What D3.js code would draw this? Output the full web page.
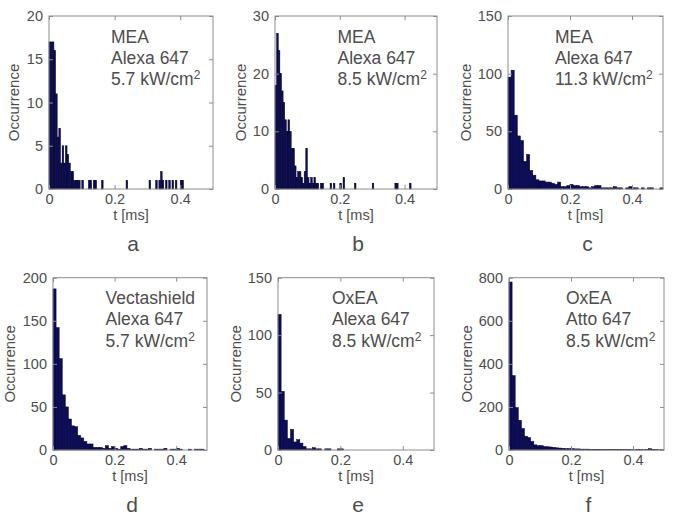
<!DOCTYPE html>
<html>
<head>
<meta charset="utf-8">
<script src="https://cdn.jsdelivr.net/npm/d3@7"></script>
<style>
  html, body { margin: 0; padding: 0; background: #fff; }
  svg { display: block; }
  text { font-family: "Liberation Sans", Arial, sans-serif; }
</style>
</head>
<body>
<svg id="chart" width="685" height="516"></svg>
<script>
// ---------- data ----------
const panelLetters = ["a", "b", "c", "d", "e", "f"];
const buffers = ["MEA", "MEA", "MEA", "Vectashield", "OxEA", "OxEA"];
const dyes = ["Alexa 647", "Alexa 647", "Alexa 647", "Alexa 647", "Alexa 647", "Atto 647"];
const intensities = ["5.7", "8.5", "11.3", "5.7", "8.5", "8.5"];
const binWidths = [0.005, 0.005, 0.01, 0.01, 0.01, 0.01]; // ms
const xTicks = [0, 0.2, 0.4];
const xTickLabels = ["0", "0.2", "0.4"];
const yMaxes = [20, 30, 150, 200, 150, 800];
const yTicksA = [0, 5, 10, 15, 20];
const yTicksB = [0, 10, 20, 30];
const yTicksC = [0, 50, 100, 150];
const yTicksD = [0, 50, 100, 150, 200];
const yTicksE = [0, 50, 100, 150];
const yTicksF = [0, 200, 400, 600, 800];

// counts per bin (bin i covers [i*w, (i+1)*w) ms)
const countsA = [17, 17, 17, 16, 11, 6, 7, 3, 5, 3, 5, 4, 3, 2, 2, 1, 1, 1, 1, 0,
                 1, 0, 0, 0, 1, 1, 0, 1, 1, 0, 0, 0, 1, 0, 0, 0, 0, 0, 0, 0,
                 0, 0, 0, 0, 0, 0, 0, 1, 0, 0, 0, 0, 0, 0, 0, 0, 0, 0, 0, 0,
                 0, 1, 0, 0, 0, 1, 0, 1, 2, 1, 0, 1, 0, 1, 0, 1, 0, 1, 0, 0,
                 1, 1];
const countsB = [18, 27, 24, 20, 17, 15, 12, 10, 12, 10, 7, 7, 4, 2, 3, 3, 2, 1, 3, 7,
                 2, 1, 2, 1, 2, 1, 1, 0, 1, 1, 0, 0, 0, 0, 1, 0, 1, 0, 0, 0,
                 1, 0, 2, 0, 0, 0, 0, 0, 0, 1, 0, 0, 0, 0, 0, 0, 0, 0, 0, 0,
                 1, 0, 0, 0, 0, 0, 0, 0, 0, 0, 0, 0, 0, 0, 1, 1, 0, 0, 0, 0,
                 0, 0, 0, 1];
const countsC = [97, 103, 64, 46, 42, 24, 30, 16, 12, 8, 7, 7, 6, 6, 5, 4, 6, 2, 2, 3,
                 4, 3, 3, 2, 2, 2, 1, 2, 3, 3, 1, 1, 1, 1, 2, 1, 1, 0, 1, 2,
                 1, 1, 0, 1, 0, 1, 1, 0, 0, 1];
const countsD = [187, 142, 106, 64, 50, 36, 28, 27, 17, 14, 10, 7, 7, 3, 3, 3, 2, 5, 2, 4,
                 2, 1, 4, 5, 2, 1, 1, 1, 2, 1, 1, 2, 0, 1, 1, 1, 2, 0, 1, 1,
                 2, 1, 0, 0, 1, 0, 1, 1, 1, 0];
const countsE = [118, 51, 26, 10, 18, 7, 9, 6, 3, 1, 1, 2, 1, 1, 0, 1, 1, 0, 0, 1,
                 1, 0, 0, 0, 0, 0, 0, 0, 0, 0, 0, 0, 0, 0, 0, 0, 0, 0, 0, 0,
                 0, 0, 0, 0, 0, 0, 0, 0, 0, 0];
const countsF = [780, 345, 197, 138, 100, 64, 58, 40, 24, 20, 20, 16, 15, 14, 12, 10, 9, 8, 6, 6,
                 6, 5, 5, 4, 4, 4, 3, 3, 3, 3, 3, 2, 3, 2, 2, 2, 2, 3, 2, 2,
                 1, 2, 2, 1, 2, 6, 3, 2, 1, 1];

const allCounts = [countsA, countsB, countsC, countsD, countsE, countsF];
const allYTicks = [yTicksA, yTicksB, yTicksC, yTicksD, yTicksE, yTicksF];

// ---------- layout ----------
const boxes = [
  {x0: 49,  x1: 213, y0: 16,    y1: 189, ylab: 35.5, tx: 62},
  {x0: 275, x1: 437, y0: 16,    y1: 189, ylab: 35,   tx: 62.5},
  {x0: 508, x1: 663, y0: 16,    y1: 189, ylab: 43,   tx: 47},
  {x0: 53,  x1: 207, y0: 277.7, y1: 450, ylab: 44,   tx: 52.5},
  {x0: 278, x1: 434, y0: 277.7, y1: 450, ylab: 42.5, tx: 54},
  {x0: 509, x1: 664, y0: 277.7, y1: 450, ylab: 43,   tx: 57}
];

const textColor = "#4d4d4d";
const axisColor = "#8c8c8c";
const barFill = "#0c0c5e";
const barStroke = "#000022";

const svg = d3.select("#chart");

boxes.forEach((b, p) => {
  const g = svg.append("g");
  const x = d3.scaleLinear().domain([0, 0.5]).range([b.x0, b.x1]);
  const y = d3.scaleLinear().domain([0, yMaxes[p]]).range([b.y1, b.y0]);
  const w = binWidths[p];
  const counts = allCounts[p];

  // bars
  g.append("g").selectAll("rect")
    .data(counts.map((c, i) => ({i, c})).filter(d => d.c > 0))
    .join("rect")
    .attr("x", d => x(d.i * w))
    .attr("width", d => Math.max(0.6, x((d.i + 1) * w) - x(d.i * w)))
    .attr("y", d => y(d.c))
    .attr("height", d => y(0) - y(d.c))
    .attr("fill", barFill)
    .attr("stroke", barStroke)
    .attr("stroke-width", 0.5);

  // axes
  const styleAxis = sel => {
    sel.select(".domain").remove();
    sel.selectAll(".tick line").attr("stroke", axisColor);
    sel.selectAll(".tick text")
      .attr("fill", textColor)
      .style("font-family", "'Liberation Sans', Arial, sans-serif")
      .style("font-size", "14.5px");
  };

  g.append("g").attr("transform", `translate(0,${b.y1})`)
    .call(d3.axisBottom(x).tickValues(xTicks).tickFormat((d, i) => xTickLabels[i])
      .tickSizeInner(-4).tickSizeOuter(0).tickPadding(5))
    .call(styleAxis);
  g.append("g").attr("transform", `translate(0,${b.y0})`)
    .call(d3.axisTop(x).tickValues(xTicks).tickFormat("").tickSizeInner(-4).tickSizeOuter(0))
    .call(styleAxis);
  g.append("g").attr("transform", `translate(${b.x0},0)`)
    .call(d3.axisLeft(y).tickValues(allYTicks[p]).tickFormat(d3.format("d"))
      .tickSizeInner(-4).tickSizeOuter(0).tickPadding(6))
    .call(styleAxis);
  g.append("g").attr("transform", `translate(${b.x1},0)`)
    .call(d3.axisRight(y).tickValues(allYTicks[p]).tickFormat("").tickSizeInner(-4).tickSizeOuter(0))
    .call(styleAxis);

  // box
  g.append("rect")
    .attr("x", b.x0).attr("y", b.y0)
    .attr("width", b.x1 - b.x0).attr("height", b.y1 - b.y0)
    .attr("fill", "none").attr("stroke", axisColor).attr("stroke-width", 1);

  // axis labels
  g.append("text")
    .attr("x", (b.x0 + b.x1) / 2).attr("y", b.y1 + 31)
    .attr("text-anchor", "middle").attr("fill", textColor)
    .style("font-size", "14.5px").text("t [ms]");
  g.append("text")
    .attr("transform", `translate(${b.x0 - b.ylab},${(b.y0 + b.y1) / 2}) rotate(-90)`)
    .attr("text-anchor", "middle").attr("dominant-baseline", "central")
    .attr("fill", textColor).style("font-size", "15px").text("Occurrence");

  // inset text
  const lines = [buffers[p], dyes[p]];
  lines.forEach((t, k) => {
    g.append("text")
      .attr("x", b.x0 + b.tx).attr("y", b.y0 + 26.5 + 21.2 * k)
      .attr("fill", textColor).style("font-size", "17.5px").text(t);
  });
  const t3 = g.append("text")
    .attr("x", b.x0 + b.tx).attr("y", b.y0 + 26.5 + 21.2 * 2)
    .attr("fill", textColor).style("font-size", "17.5px");
  t3.append("tspan").text(intensities[p] + " kW/cm");
  t3.append("tspan").attr("dy", -6).style("font-size", "12px").text("2");

  // panel letter
  g.append("text")
    .attr("x", (b.x0 + b.x1) / 2 + 2).attr("y", b.y1 + 62)
    .attr("text-anchor", "middle").attr("fill", textColor)
    .style("font-size", "21px").text(panelLetters[p]);
});
</script>
</body>
</html>
